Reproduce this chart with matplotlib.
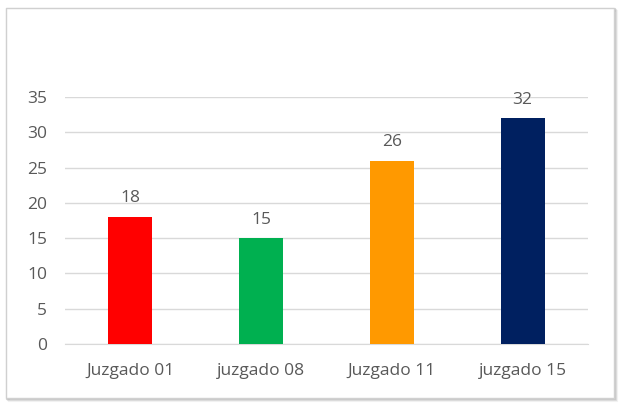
import matplotlib
matplotlib.use("Agg")
import matplotlib.pyplot as plt
from matplotlib.patches import Rectangle

categories = ["Juzgado 01", "juzgado 08", "Juzgado 11", "juzgado 15"]
values = [18, 15, 26, 32]
colors = ["#FF0000", "#00B050", "#FF9900", "#002060"]
yticks = [0, 5, 10, 15, 20, 25, 30, 35]

plt.rcParams['font.family'] = ['Open Sans', 'DejaVu Sans']
text_color = "#595959"

fig = plt.figure(figsize=(6.22, 4.04), dpi=100)
fig.patch.set_facecolor("white")

# frame with a soft shadow (bottom-right)
for i, a in enumerate([0.10, 0.18, 0.28]):
    off = (3 - i) / 622
    fig.patches.append(Rectangle((6 / 622 + off, 6 / 404 - off * 622 / 404), 608 / 622, 390 / 404,
                                 transform=fig.transFigure, facecolor="none",
                                 edgecolor=(0.5, 0.5, 0.5, a), lw=1.5, zorder=-3))
fig.patches.append(Rectangle((6 / 622, 6 / 404), 608 / 622, 390 / 404,
                             transform=fig.transFigure, facecolor="white",
                             edgecolor="#D0D0D0", lw=1.0, zorder=-2))

ax = fig.add_axes([65 / 622, 60 / 404, 523 / 622, 247 / 404])
ax.set_facecolor("none")
x = range(len(categories))
bars = ax.bar(x, values, width=0.335, color=colors, zorder=3)
for b, v in zip(bars, values):
    ax.text(b.get_x() + b.get_width() / 2, v + 1.5, str(v), ha="center", va="bottom",
            fontsize=12.5, color=text_color)

ax.set_xlim(-0.5, len(categories) - 0.5)
ax.set_ylim(0, 35)
ax.set_yticks(yticks)
ax.set_xticks(list(x))
ax.set_xticklabels(categories)
ax.yaxis.grid(True, color="#D9D9D9", lw=1, zorder=0)
ax.set_axisbelow(True)
for s in ["top", "right", "left"]:
    ax.spines[s].set_visible(False)
ax.spines["bottom"].set_color("#D9D9D9")
ax.tick_params(axis="both", length=0, labelsize=12.5, colors=text_color)
ax.tick_params(axis="y", pad=13)
ax.tick_params(axis="x", pad=14)

fig.savefig("out.png", dpi=100)
